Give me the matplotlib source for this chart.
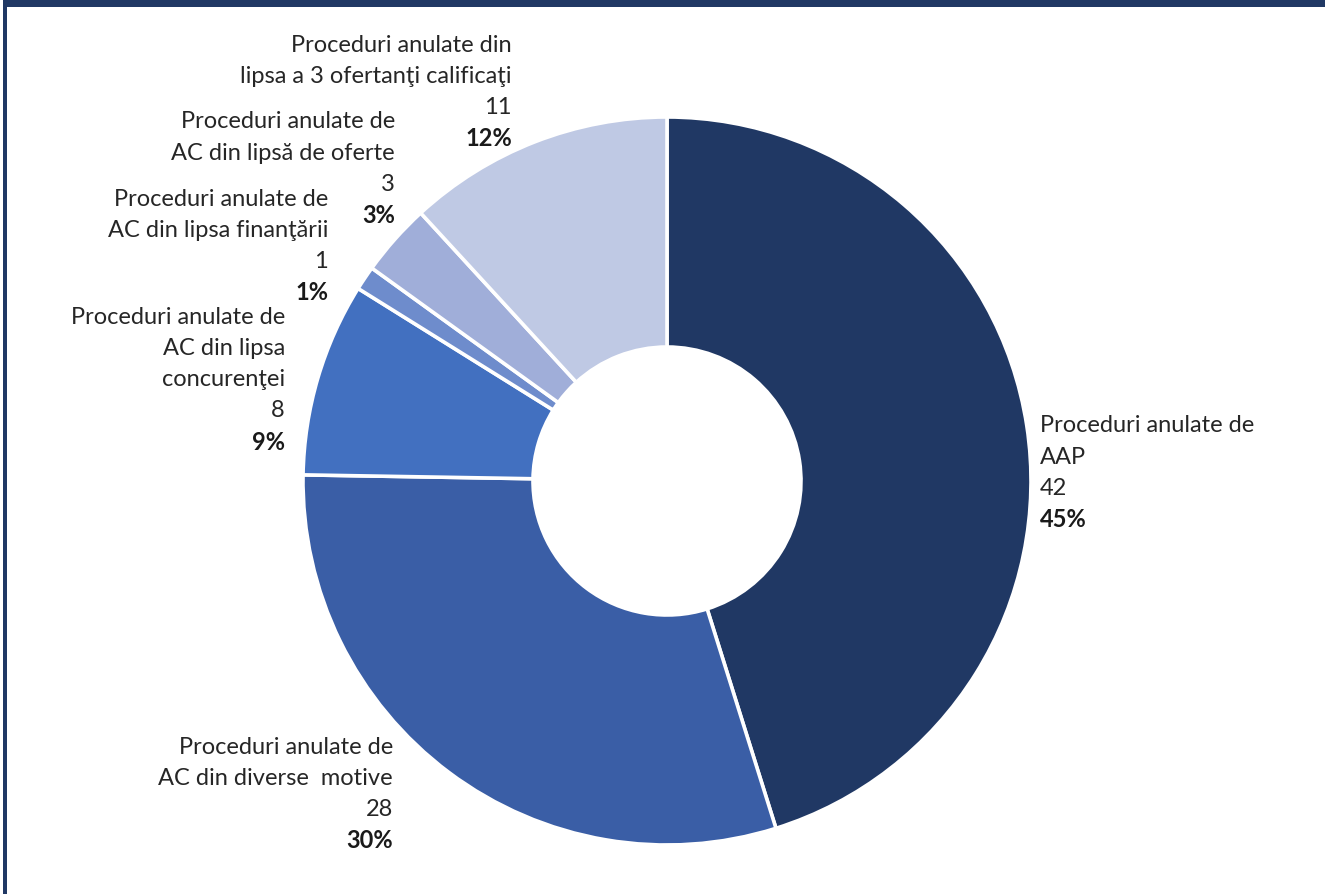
import matplotlib
matplotlib.use('Agg')
import matplotlib.pyplot as plt
from matplotlib.patches import Rectangle

plt.rcParams['font.family'] = ['Lato', 'DejaVu Sans']

# data
categories = [
    'Proceduri anulate de\nAAP',
    'Proceduri anulate de\nAC din diverse  motive',
    'Proceduri anulate de\nAC din lipsa\nconcurenţei',
    'Proceduri anulate de\nAC din lipsa finanţării',
    'Proceduri anulate de\nAC din lipsă de oferte',
    'Proceduri anulate din\nlipsa a 3 ofertanţi calificaţi',
]
counts = [42, 28, 8, 1, 3, 11]
percent_labels = ['45%', '30%', '9%', '1%', '3%', '12%']

colors = ['#203864', '#3A5EA6', '#4270C0', '#6E8CCC', '#A0AED9', '#BFC9E4']

# label layout in pixels: x anchor, y of first line, alignment
label_pos = [
    (1040, 426, 'left'),
    (393, 747, 'right'),
    (285, 317, 'right'),
    (328, 199, 'right'),
    (395, 122, 'right'),
    (512, 45, 'right'),
]
line_step = 31.3

W, H = 1325, 894
fig = plt.figure(figsize=(W / 100, H / 100), dpi=100)
ax = fig.add_axes([0, 0, 1, 1])

cx, cy, r_out, r_in = 667, 481, 364, 134
ax.pie(counts, colors=colors, center=(cx, cy), radius=r_out,
       startangle=-90, counterclock=True,
       wedgeprops=dict(width=r_out - r_in, edgecolor='white', linewidth=2.6))
ax.set_xlim(0, W)
ax.set_ylim(H, 0)
ax.set_aspect('equal')
ax.axis('off')

for name, cnt, pct, (x, y0, ha) in zip(categories, counts, percent_labels, label_pos):
    lines = name.split('\n') + [str(cnt)]
    for i, line in enumerate(lines):
        ax.text(x, y0 + i * line_step, line, ha=ha, va='center',
                fontsize=17, color='#262626')
    ax.text(x, y0 + len(lines) * line_step, pct, ha=ha, va='center',
            fontsize=17, fontweight='bold', color='#1a1a1a')

# frame strips
fig.add_artist(Rectangle((3 / W, 0), 4 / W, 1, transform=fig.transFigure,
                         color='#203864', lw=0))
fig.add_artist(Rectangle((3 / W, 1 - 7 / H), 1, 7 / H, transform=fig.transFigure,
                         color='#203864', lw=0))

fig.savefig('out.png', dpi=100)
